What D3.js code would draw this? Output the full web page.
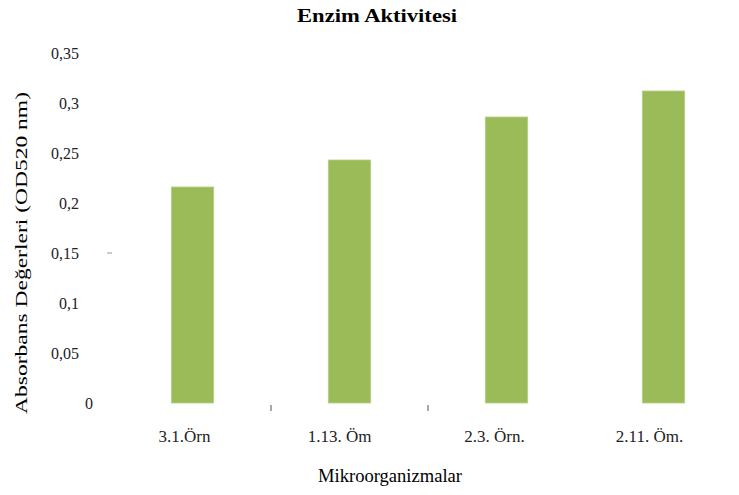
<!DOCTYPE html>
<html>
<head>
<meta charset="utf-8">
<script src="https://cdn.jsdelivr.net/npm/d3@7"></script>
<style>
  html, body { margin: 0; padding: 0; background: #fff; }
  svg { display: block; }
</style>
</head>
<body>
<svg id="chart" width="739" height="495"></svg>
<script>
// Enzyme activity per sample (absorbance at 520 nm)
const categories = ["3.1.Örn", "1.13. Öm", "2.3. Örn.", "2.11. Öm."];
const values = [0.216, 0.243, 0.286, 0.312];
const yTicks = [0, 0.05, 0.1, 0.15, 0.2, 0.25, 0.3, 0.35];
const yTickLabels = ["0", "0,05", "0,1", "0,15", "0,2", "0,25", "0,3", "0,35"];
const title = "Enzim Aktivitesi";
const xTitle = "Mikroorganizmalar";
const yTitle = "Absorbans Değerleri (OD520 nm)";

const FONT = "'Liberation Serif', 'Times New Roman', 'DejaVu Serif', serif";

const svg = d3.select("#chart");

const x = d3.scaleBand()
  .domain(categories)
  .range([114, 742])
  .paddingInner(0.73)
  .paddingOuter(0.365);

// category labels sit on a slightly narrower band than the bars
const xLabel = d3.scaleBand()
  .domain(categories)
  .range([107, 727]);

const y = d3.scaleLinear()
  .domain([0, 0.35])
  .range([403, 53]);

// Title
svg.append("text")
  .attr("x", 377).attr("y", 22)
  .attr("text-anchor", "middle")
  .attr("font-family", FONT)
  .attr("font-size", 18)
  .attr("font-weight", "bold")
  .attr("textLength", 160)
  .attr("lengthAdjust", "spacingAndGlyphs")
  .text(title);

// Y tick labels (no axis line)
svg.append("g").selectAll("text")
  .data(yTicks)
  .join("text")
  .attr("x", d => d === 0 ? 93 : 79)
  .attr("y", d => y(d))
  .attr("dy", "0.35em")
  .attr("text-anchor", "end")
  .attr("font-family", FONT)
  .attr("font-size", 16)
  .attr("fill", "#222")
  .text((d, i) => yTickLabels[i]);

// small stray mark next to the 0,15 label
svg.append("line")
  .attr("x1", 107).attr("x2", 112)
  .attr("y1", y(0.15)).attr("y2", y(0.15))
  .attr("stroke", "#999").attr("stroke-width", 1);

// Bars
svg.append("g").selectAll("rect")
  .data(values)
  .join("rect")
  .attr("x", (d, i) => x(categories[i]))
  .attr("width", x.bandwidth())
  .attr("y", d => y(d))
  .attr("height", d => y(0) - y(d))
  .attr("fill", "#9bbb59")
  .attr("stroke", "#b5cf84")
  .attr("stroke-width", 0.8);

// Category boundary ticks
const step = x.step();
const gaps = categories.slice(0, 2).map(c => x(c) + x.bandwidth() / 2 + step / 2);
svg.append("g").selectAll("line")
  .data(gaps)
  .join("line")
  .attr("x1", d => d).attr("x2", d => d)
  .attr("y1", 405).attr("y2", 411)
  .attr("stroke", "#888").attr("stroke-width", 1.5);

// X category labels
svg.append("g").selectAll("text")
  .data(categories)
  .join("text")
  .attr("x", d => xLabel(d) + xLabel.bandwidth() / 2)
  .attr("y", 442)
  .attr("text-anchor", "middle")
  .attr("font-family", FONT)
  .attr("font-size", 17)
  .attr("fill", "#222")
  .text(d => d);

// Axis titles
svg.append("text")
  .attr("x", 390).attr("y", 482)
  .attr("text-anchor", "middle")
  .attr("font-family", FONT)
  .attr("font-size", 18)
  .attr("textLength", 144)
  .attr("lengthAdjust", "spacingAndGlyphs")
  .text(xTitle);

svg.append("text")
  .attr("transform", "translate(27,253) rotate(-90)")
  .attr("text-anchor", "middle")
  .attr("font-family", FONT)
  .attr("font-size", 17)
  .attr("textLength", 322)
  .attr("lengthAdjust", "spacingAndGlyphs")
  .text(yTitle);
</script>
</body>
</html>
